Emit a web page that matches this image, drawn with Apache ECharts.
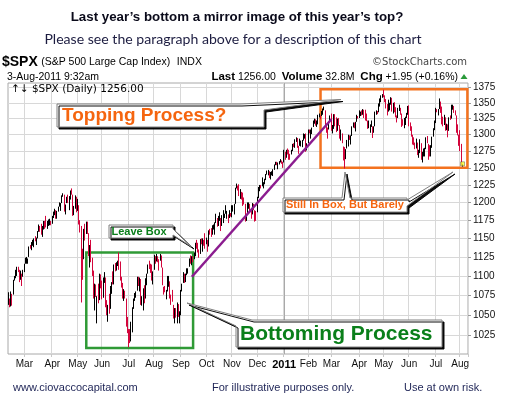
<!DOCTYPE html>
<html><head><meta charset="utf-8">
<script src="https://cdn.jsdelivr.net/npm/echarts@6/dist/echarts.min.js"></script>
<style>html,body{margin:0;padding:0;background:#fff}#c{width:506px;height:410px}</style>
</head><body><div id="c"></div>
<script>
// ---- tick labels ----
const monthNames = ['Jan','Feb','Mar','Apr','May','Jun','Jul','Aug','Sep','Oct','Nov','Dec'];
const yTicks = [1025,1050,1075,1100,1125,1150,1175,1200,1225,1250,1275,1300,1325,1350,1375];
const holidays = ['2010-02-15','2010-04-02','2010-05-31','2010-07-05','2010-09-06','2010-11-25','2010-12-24',
  '2011-01-17','2011-02-21','2011-04-22','2011-05-30','2011-07-04'];
const firstDay = '2010-02-09';
const padDays = 4;
const prevClose0 = 1056.74;

// ---- daily closes (Feb-2010 .. 3-Aug-2011) ----
const closes = [
 1070.52,1068.13,1078.47,1075.51,1094.87,1099.51,1106.75,1109.17,1108.01,1094.60,1105.24,1102.94,1104.49,
 1115.71,1118.31,1118.79,1122.97,1138.70,1138.50,1140.45,1145.61,1150.24,1149.99,1150.51,1159.46,1166.21,1165.83,1159.90,1165.81,1174.17,1167.72,1165.73,1166.59,1173.22,1173.27,1169.43,
 1178.10,1187.44,1189.44,1182.45,1186.44,1194.37,1196.48,1197.30,1210.65,1211.67,1192.13,1197.52,1207.17,1205.94,1208.67,1217.28,1212.05,1183.71,1191.36,1206.78,1186.69,
 1202.26,1173.60,1165.87,1128.15,1110.88,1159.73,1155.79,1171.67,1157.44,1135.68,1136.94,1120.80,1115.05,1071.59,1087.69,1073.65,1074.03,1067.95,1103.06,1089.41,
 1070.71,1098.38,1102.83,1064.88,1050.47,1062.00,1055.69,1086.84,1091.60,1089.63,1115.23,1114.61,1116.04,1117.51,1113.20,1095.31,1092.04,1073.69,1076.76,1074.57,1041.24,1030.71,
 1027.37,1022.58,1028.06,1060.27,1070.25,1077.96,1078.75,1095.34,1095.17,1096.48,1064.88,1071.25,1083.48,1069.59,1093.67,1102.66,1115.01,1113.84,1106.13,1101.53,1101.60,
 1125.86,1120.46,1127.24,1125.81,1121.64,1127.79,1121.06,1089.47,1083.61,1079.25,1079.38,1092.54,1094.16,1075.63,1071.69,1067.36,1051.87,1055.33,1047.22,1064.59,1048.92,1049.33,
 1080.29,1090.10,1104.51,1091.84,1098.87,1104.18,1109.55,1121.90,1121.10,1125.07,1124.66,1125.59,1142.71,1139.78,1134.28,1124.83,1148.67,1142.16,1147.70,1144.73,1141.20,
 1146.24,1137.03,1160.75,1159.97,1158.06,1165.15,1165.32,1169.77,1178.10,1173.81,1176.19,1184.71,1165.90,1178.17,1180.26,1183.08,1185.62,1185.64,1182.45,1183.78,1183.26,
 1184.38,1193.57,1197.96,1221.06,1225.85,1223.25,1213.40,1218.71,1213.54,1199.21,1197.75,1178.34,1178.59,1196.69,1199.73,1197.84,1180.73,1198.35,1189.40,1187.76,1180.55,
 1206.07,1221.53,1224.71,1223.12,1223.75,1228.28,1233.00,1240.40,1240.46,1241.59,1235.23,1242.87,1243.91,1247.08,1254.60,1258.84,1256.77,1257.54,1258.51,1259.78,1257.88,1257.64,
 1271.87,1270.20,1276.56,1273.85,1271.50,1269.75,1274.48,1285.96,1283.76,1293.24,1295.02,1281.92,1280.26,1283.35,1290.84,1291.18,1296.63,1299.54,1276.34,1286.12,
 1307.59,1304.03,1307.10,1310.87,1319.05,1324.57,1320.88,1321.87,1329.15,1332.32,1328.01,1336.32,1340.43,1343.01,1315.44,1307.40,1306.10,1319.88,1327.22,
 1306.33,1308.44,1330.97,1321.15,1310.13,1321.82,1320.02,1295.11,1304.28,1296.39,1281.87,1256.88,1273.72,1279.21,1298.38,1293.77,1297.54,1309.66,1313.80,1310.19,1319.44,1328.26,1325.83,
 1332.41,1332.87,1332.63,1335.54,1333.51,1328.17,1324.46,1314.16,1314.41,1314.52,1319.68,1305.14,1312.62,1330.36,1337.38,1335.25,1347.24,1355.66,1360.48,1363.61,
 1361.22,1356.62,1347.32,1335.10,1340.20,1346.29,1357.16,1342.08,1348.65,1337.77,1329.47,1328.98,1340.68,1343.60,1333.27,1317.37,1316.28,1320.47,1325.69,1331.10,1345.20,
 1314.55,1312.94,1300.16,1286.17,1284.94,1279.56,1289.00,1270.98,1271.83,1287.87,1265.42,1267.64,1271.50,1278.36,1295.52,1287.14,1283.50,1268.45,1280.10,1296.67,1307.41,1320.64,
 1339.67,1337.88,1339.22,1353.22,1343.80,1319.49,1313.64,1317.72,1308.87,1316.14,1305.44,1326.73,1325.84,1343.80,1345.02,1337.43,1331.94,1304.89,1300.67,1292.28,
 1286.94,1254.05,1256.00
];
const highs = [
 1079,1071,1080,1077,1095,1100,1108,1112,1112,1108,1107,1103,1108,
 1116,1124,1125,1123,1139,1141,1145,1148,1150,1153,1151,1160,1169,1167,1170,1167,1174,1174,1181,1174,1176,1177,1174,
 1181,1187,1191,1189,1188,1194,1200,1199,1210,1213,1211,1197,1208,1211,1209,1217,1220,1211,1195,1210,1208,
 1205,1196,1175,1167,1136,1163,1170,1173,1173,1157,1141,1148,1124,1107,1090,1089,1074,1090,1103,1102,
 1094,1098,1105,1098,1069,1063,1077,1087,1092,1106,1115,1117,1118,1120,1131,1119,1099,1091,1083,1081,1071,1048,
 1033,1033,1042,1060,1071,1078,1080,1099,1099,1098,1096,1074,1084,1088,1097,1103,1115,1120,1116,1115,1106,
 1128,1126,1129,1126,1122,1129,1127,1111,1086,1087,1082,1100,1100,1093,1076,1082,1063,1059,1059,1066,1064,1055,
 1082,1090,1105,1103,1103,1110,1110,1123,1127,1126,1126,1131,1144,1148,1144,1135,1149,1150,1150,1148,1157,
 1151,1148,1161,1163,1164,1168,1169,1172,1184,1178,1181,1186,1178,1182,1189,1184,1196,1188,1183,1189,1185,
 1196,1196,1198,1221,1227,1224,1226,1219,1215,1214,1207,1198,1183,1200,1200,1198,1190,1199,1198,1189,1188,
 1208,1222,1225,1225,1236,1229,1234,1241,1246,1247,1245,1244,1245,1248,1255,1259,1259,1258,1260,1263,1261,1259,
 1277,1274,1277,1279,1277,1271,1277,1286,1287,1293,1296,1295,1283,1294,1291,1292,1302,1301,1302,1287,
 1308,1308,1308,1311,1322,1325,1324,1322,1331,1333,1330,1337,1341,1344,1338,1317,1311,1320,1330,
 1333,1315,1332,1332,1327,1325,1326,1315,1308,1302,1282,1281,1278,1292,1300,1299,1299,1313,1319,1319,1320,1331,1329,
 1338,1336,1338,1340,1339,1339,1333,1322,1322,1316,1322,1313,1313,1336,1338,1337,1349,1357,1362,1364,
 1371,1362,1356,1348,1355,1350,1359,1358,1350,1351,1343,1330,1342,1347,1342,1333,1324,1326,1328,1334,1345,
 1346,1319,1313,1300,1296,1288,1294,1288,1277,1293,1287,1274,1279,1280,1296,1298,1286,1284,1284,1297,1310,1322,
 1342,1340,1340,1357,1352,1344,1328,1331,1327,1317,1316,1327,1330,1347,1347,1345,1338,1330,1316,1300,
 1307,1286,1256
];
const lows = [
 1063,1060,1061,1062,1076,1094,1097,1100,1105,1092,1095,1087,1099,
 1105,1116,1116,1116,1125,1136,1134,1140,1138,1146,1141,1150,1159,1159,1155,1152,1162,1163,1165,1163,1167,1168,1168,
 1170,1178,1182,1177,1177,1187,1194,1188,1199,1208,1187,1183,1199,1199,1189,1204,1211,1181,1182,1191,1186,
 1188,1169,1158,1066,1095,1122,1147,1156,1156,1126,1111,1118,1100,1071,1056,1073,1040,1065,1069,1084,
 1070,1072,1091,1060,1050,1042,1052,1058,1077,1089,1089,1106,1107,1113,1108,1094,1085,1071,1068,1071,1036,1028,
 1011,1016,1018,1029,1058,1068,1072,1081,1087,1080,1063,1062,1056,1065,1071,1088,1103,1109,1104,1094,1089,
 1108,1116,1119,1118,1107,1120,1111,1088,1076,1079,1070,1080,1086,1071,1063,1067,1046,1040,1047,1040,1048,1040,
 1050,1080,1091,1091,1092,1101,1103,1112,1116,1114,1118,1122,1126,1136,1131,1124,1129,1142,1132,1140,1136,
 1142,1132,1139,1155,1152,1155,1162,1155,1171,1166,1167,1174,1160,1167,1171,1178,1184,1177,1171,1178,1180,
 1179,1187,1183,1198,1220,1217,1209,1205,1204,1195,1197,1173,1174,1183,1191,1185,1177,1183,1189,1173,1174,
 1186,1206,1216,1220,1223,1220,1226,1232,1240,1239,1235,1233,1239,1238,1247,1254,1254,1248,1255,1258,1256,1250,
 1258,1262,1265,1270,1262,1262,1270,1275,1281,1280,1289,1280,1271,1283,1282,1281,1291,1294,1274,1276,
 1287,1302,1294,1301,1312,1317,1314,1312,1316,1327,1324,1329,1331,1338,1315,1303,1294,1308,1320,
 1306,1302,1309,1313,1304,1306,1314,1294,1291,1287,1261,1249,1263,1279,1282,1292,1285,1298,1311,1310,1305,1320,1325,
 1326,1329,1330,1331,1326,1322,1321,1309,1310,1303,1312,1295,1303,1313,1331,1332,1335,1344,1351,1358,
 1359,1351,1341,1330,1336,1338,1347,1336,1333,1335,1327,1319,1326,1337,1331,1312,1314,1310,1315,1326,1331,
 1313,1306,1297,1285,1284,1278,1279,1269,1265,1272,1262,1258,1267,1267,1278,1287,1262,1267,1267,1280,1297,1307,
 1318,1335,1330,1340,1334,1316,1313,1315,1306,1307,1296,1306,1323,1325,1339,1334,1330,1303,1299,1283,
 1275,1254,1252
];

// annotation ranges (data space)
const greenBox = {from: 64, to: 152, top: 1131, bottom: 1010};
const orangeBox = {from: 257, to: 378, top: 1372, bottom: 1250};
const trendLine = {from: 151, fromVal: 1099, to: 266, toVal: 1324};
const yearIdx = 227;

// ---- build ----
const N = closes.length;
if (highs.length !== N || lows.length !== N) throw new Error('length mismatch '+N+' '+highs.length+' '+lows.length);
function buildDates(n){
  const out=[]; const d=new Date(firstDay+'T00:00:00Z');
  while(out.length<n){
    const wd=d.getUTCDay(); const s=d.toISOString().slice(0,10);
    if(wd!==0&&wd!==6&&holidays.indexOf(s)<0) out.push(s);
    d.setUTCDate(d.getUTCDate()+1);
  }
  return out;
}
const dates = buildDates(N+padDays);
if (dates[N-1] !== '2011-08-03') throw new Error('date mismatch '+dates[N-1]);
const ohlc = closes.map((c,i)=>[i?closes[i-1]:prevClose0, c, lows[i], highs[i]]);
const isMonthStart = (i)=> i>0 && i<N && dates[i].slice(0,7)!==dates[i-1].slice(0,7);

const FF = '"Liberation Sans", Arial, sans-serif';
const red = '#d3063c';
const callout = {fill:'#fff', stroke:'#808080', lineWidth:1, shadowColor:'rgba(0,0,0,0.95)', shadowOffsetX:2, shadowOffsetY:2, shadowBlur:0};

const chart = echarts.init(document.getElementById('c'));
chart.setOption({
  animation:false,
  backgroundColor:'#fff',
  grid:{left:8, top:83, width:460, height:271, show:true, borderColor:'#a8a8a8', borderWidth:1, backgroundColor:'#fff'},
  xAxis:{type:'category', data:dates, boundaryGap:true,
    axisLine:{show:false},
    axisTick:{show:true, interval:(i)=>isMonthStart(i), length:3, lineStyle:{color:'#c8c8c8'}},
    axisLabel:{interval:(i)=>isMonthStart(i), margin:5, color:'#111', fontSize:10, fontFamily:FF,
      formatter:(v)=>{const m=+v.slice(5,7); return m===1?'{y|'+v.slice(0,4)+'}':monthNames[m-1];},
      rich:{y:{fontWeight:'bold', fontSize:11, color:'#000', fontFamily:FF}}},
    splitLine:{show:true, interval:(i)=>isMonthStart(i), lineStyle:{color:'#d8d8d8', width:1}}
  },
  yAxis:{type:'log', logBase:10, min:1003, max:1382, position:'right',
    axisLine:{show:false},
    axisTick:{show:true, customValues:yTicks, length:3, lineStyle:{color:'#999'}},
    axisLabel:{customValues:yTicks, margin:5, color:'#111', fontSize:10, fontFamily:FF, formatter:(v)=>String(Math.round(v))},
    splitLine:{show:true, lineStyle:{color:'#d8d8d8', width:1}}
  },
  series:[
    {type:'candlestick', data:ohlc, barWidth:1, silent:true,
     itemStyle:{color:'#000', color0:red, borderColor:'#000', borderColor0:red, borderWidth:1},
     markArea:{silent:true, data:[
       [{coord:[dates[greenBox.from], greenBox.top], itemStyle:{color:'rgba(0,0,0,0)', borderColor:'#2f9a36', borderWidth:2.5}},
        {coord:[dates[greenBox.to], greenBox.bottom]}],
       [{coord:[dates[orangeBox.from], orangeBox.top], itemStyle:{color:'rgba(0,0,0,0)', borderColor:'#f3721f', borderWidth:2.5}},
        {coord:[dates[orangeBox.to], orangeBox.bottom]}]
     ]},
     markLine:{silent:true, symbol:['none','none'], label:{show:false}, data:[
       {xAxis:dates[yearIdx], lineStyle:{color:'#a9a9a9', width:1, type:'solid'}},
       [{coord:[dates[trendLine.from], trendLine.fromVal], lineStyle:{color:'#8b1c8f', width:2.5, type:'solid'}},
        {coord:[dates[trendLine.to], trendLine.toVal]}]
     ]}
    },
    {type:'scatter', data:[[dates[N-1], closes[N-1]]], symbol:'rect', symbolSize:4, silent:true, z:5,
     itemStyle:{color:'#ffff33', borderColor:'#333', borderWidth:0.5}}
  ],
  graphic:[
    {type:'text', z:100, style:{x:237, y:17.5, text:'Last year\u2019s bottom a mirror image of this year\u2019s top?', fill:'#0a0a1a', fontSize:13.3, fontWeight:'bold', fontFamily:FF, textAlign:'center', textVerticalAlign:'middle'}},
    {type:'text', z:100, style:{x:233, y:39, text:'Please see the paragraph above for a description of this chart', fill:'#1c1c40', fontSize:14.1, fontFamily:'Lato, "Open Sans", sans-serif', textAlign:'center', textVerticalAlign:'middle'}},
    {type:'text', z:100, style:{x:2, y:62, text:'{a|$SPX} {b|(S&P 500 Large Cap Index)}  {b|INDX}', textVerticalAlign:'middle',
      rich:{a:{fontSize:14, fontWeight:'bold', fontFamily:FF, fill:'#000', color:'#000'}, b:{fontSize:10.5, fontFamily:FF, color:'#000'}}}},
    {type:'text', z:100, style:{x:467, y:62.5, text:'\u00a9StockCharts.com', fill:'#444', fontSize:10, fontFamily:'"DejaVu Sans", sans-serif', textAlign:'right', textVerticalAlign:'middle'}},
    {type:'text', z:100, style:{x:7, y:77, text:'3-Aug-2011 9:32am', fill:'#000', fontSize:10.5, fontFamily:FF, textVerticalAlign:'middle'}},
    {type:'text', z:100, style:{x:458, y:77, text:'{b|Last} 1256.00  {b|Volume} 32.8M  {b|Chg} +1.95 (+0.16%)', textAlign:'right', textVerticalAlign:'middle', fontSize:10.5, fontFamily:FF, fill:'#000',
      rich:{b:{fontWeight:'bold', fontSize:11.5, fontFamily:FF, color:'#000'}}}},
    {type:'polygon', z:100, shape:{points:[[460.5,79],[467.5,79],[464,74]]}, style:{fill:'#2a9a3a'}},
    {type:'text', z:100, style:{x:11, y:89, text:'\u2191\u2193 $SPX (Daily) 1256.00', fill:'#000', fontSize:10.5, fontFamily:'"DejaVu Sans", sans-serif', textVerticalAlign:'middle'}},
    // Topping callout
    {type:'polygon', z:100, shape:{points:[[57,104],[240,104],[341,99.5],[264,110],[264,127],[57,127]]}, style:callout},
    {type:'text', z:101, style:{x:62, y:116, text:'Topping Process?', fill:'#f5650f', fontSize:19, fontWeight:'bold', fontFamily:FF, textVerticalAlign:'middle'}},
    // Leave box callout
    {type:'polygon', z:100, shape:{points:[[109,225],[173,225],[173,229],[192,247],[173,235],[173,238],[109,238]]}, style:callout},
    {type:'text', z:101, style:{x:111.5, y:231.5, text:'Leave Box', fill:'#0a7f1a', fontSize:11, fontWeight:'bold', fontFamily:FF, textVerticalAlign:'middle'}},
    // Bottoming callout
    {type:'polygon', z:100, shape:{points:[[187,303],[252,320],[442,320],[442,347],[236,347],[236,326]]}, style:callout},
    {type:'text', z:101, style:{x:240, y:334, text:'Bottoming Process', fill:'#0a7f1a', fontSize:21, fontWeight:'bold', fontFamily:FF, textVerticalAlign:'middle'}},
    // Still in box callout
    {type:'polygon', z:100, shape:{points:[[283,198],[342,198],[345,172],[350,198],[407,198],[407,200],[453,172],[407,206],[407,212],[283,212]]}, style:callout},
    {type:'text', z:101, style:{x:286, y:205, text:'Still In Box, But Barely', fill:'#f5650f', fontSize:11, fontWeight:'bold', fontFamily:FF, textVerticalAlign:'middle'}},
    // footer
    {type:'text', z:100, style:{x:13, y:388, text:'www.ciovaccocapital.com', fill:'#1e2456', fontSize:11, fontFamily:FF, textVerticalAlign:'middle'}},
    {type:'text', z:100, style:{x:212, y:388, text:'For illustrative purposes only.', fill:'#1e2456', fontSize:11, fontFamily:FF, textVerticalAlign:'middle'}},
    {type:'text', z:100, style:{x:404, y:388, text:'Use at own risk.', fill:'#1e2456', fontSize:11, fontFamily:FF, textVerticalAlign:'middle'}}
  ]
});
</script></body></html>
